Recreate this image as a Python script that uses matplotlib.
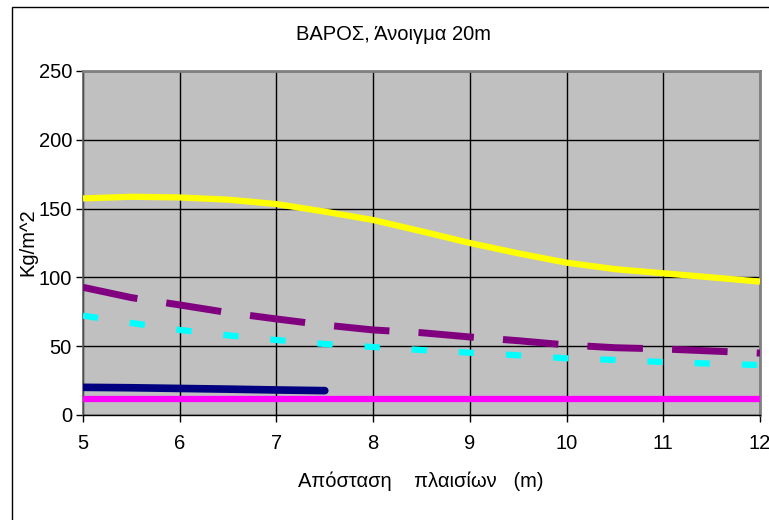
import matplotlib
matplotlib.use("Agg")
import matplotlib.pyplot as plt
from matplotlib.patches import Rectangle

plt.rcParams['font.family'] = ['Liberation Sans', 'DejaVu Sans']
plt.rcParams['lines.scale_dashes'] = False

title = "ΒΑΡΟΣ, Άνοιγμα 20m"
xlabel = "Απόσταση    πλαισίων   (m)"
ylabel = "Kg/m^2"

x_full = [5, 5.5, 6, 6.5, 7, 7.5, 8, 8.5, 9, 9.5, 10, 10.5, 11, 11.5, 12]
yellow = [157.4, 158.6, 158.1, 156.5, 153.3, 147.8, 141.7, 133.5, 125.0, 117.5, 110.7, 106.0, 103.0, 100.0, 96.9]
purple = [92.8, 85.3, 80.0, 74.4, 69.8, 65.4, 61.8, 59.8, 56.7, 54.0, 50.9, 48.9, 48.0, 46.5, 45.0]
cyan = [72.2, 66.9, 61.8, 57.9, 54.5, 51.6, 49.4, 47.2, 45.3, 43.4, 41.2, 40.0, 38.5, 37.3, 36.3]
x_navy = [5, 5.5, 6, 6.5, 7, 7.5]
navy = [20.1, 19.8, 19.3, 18.8, 18.2, 17.7]
x_mag = [5, 12]
magenta = [11.4, 11.4]

xticks = [5, 6, 7, 8, 9, 10, 11, 12]
yticks = [0, 50, 100, 150, 200, 250]

W, H = 769, 520
fig = plt.figure(figsize=(W / 100, H / 100), dpi=100)
fig.patch.set_facecolor('white')

# outer chart border
fig.patches.append(Rectangle((12 / W, -0.1), 1.2, 1 - 7 / H + 0.1, transform=fig.transFigure,
                             fill=False, edgecolor='black', linewidth=1.0, zorder=0))

ax = fig.add_axes([83 / W, 1 - 415 / H, (760 - 83) / W, (415 - 71) / H])
ax.set_facecolor('#C0C0C0')
ax.set_xlim(5, 12)
ax.set_ylim(0, 250)
ax.set_xticks(xticks)
ax.set_yticks(yticks)
ax.grid(True, color='black', linewidth=1.0)
ax.set_axisbelow(True)

for s in ['top', 'right']:
    ax.spines[s].set_color('#808080')
    ax.spines[s].set_linewidth(2.0)
ax.spines['left'].set_color('#606060')
ax.spines['left'].set_linewidth(1.2)
ax.spines['bottom'].set_color('black')
ax.spines['bottom'].set_linewidth(1.0)

ax.tick_params(axis='both', direction='out', length=5, width=1, labelsize=14.5, colors='black')
ax.tick_params(axis='x', pad=9)
ax.tick_params(axis='y', pad=3)

ax.plot(x_full, yellow, color='#FFFF00', linewidth=4.5, solid_capstyle='butt', zorder=3)
ax.plot(x_full, purple, color='#800080', linewidth=5.0, linestyle=(0, (40, 21)), dash_capstyle='butt', zorder=3)
ax.plot(x_full, cyan, color='#00FFFF', linewidth=4.5, linestyle=(0, (11, 23)), dash_capstyle='butt', zorder=3)
ax.plot(x_navy, navy, color='#000080', linewidth=5.5, solid_capstyle='round', zorder=3)
ax.plot(x_mag, magenta, color='#FF00FF', linewidth=4.5, solid_capstyle='butt', zorder=3, clip_on=False)

fig.text(393 / W, 1 - 35 / H, title, ha='center', va='center', fontsize=14.5)
fig.text(421 / W, 1 - 481 / H, xlabel, ha='center', va='center', fontsize=14.5)
fig.text(28 / W, 1 - 242 / H, ylabel, ha='center', va='center', rotation=90, fontsize=14.5)

fig.savefig('out.png', dpi=100)
